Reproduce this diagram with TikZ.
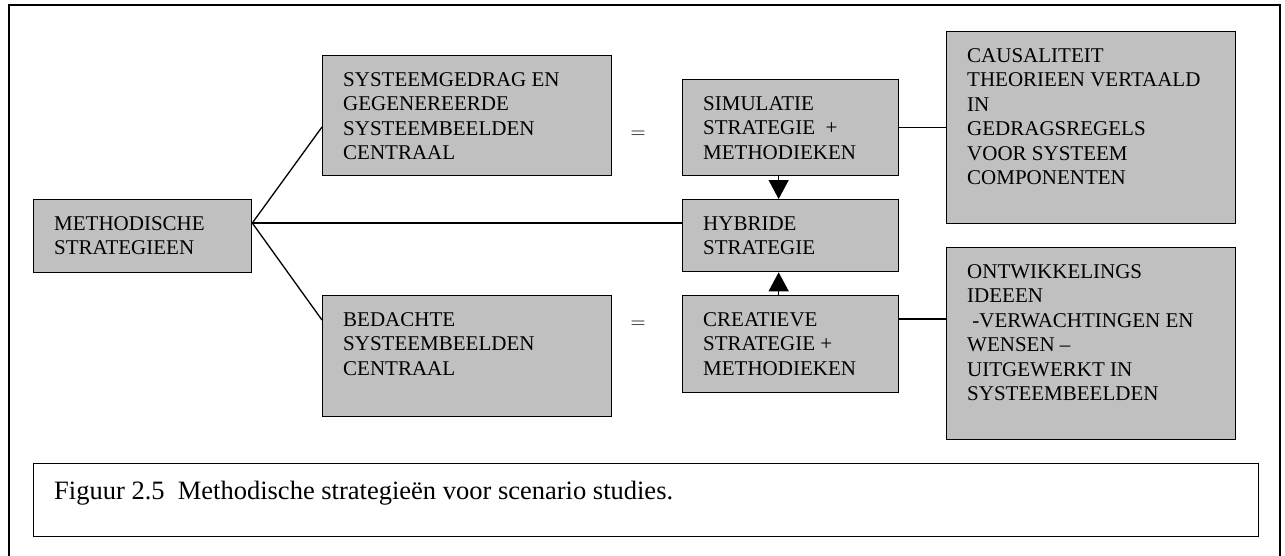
\documentclass[tikz,border=0pt]{standalone}
\usepackage{fontspec}
\setmainfont{Liberation Serif}
\usetikzlibrary{arrows.meta,calc}
\definecolor{boxgray}{RGB}{192,192,192}
\begin{document}
\begin{tikzpicture}[x=1pt,y=-1pt,
  txtfont/.style={font=\fontsize{21}{24.5}\selectfont},
  box/.style={draw=black,line width=1.3pt,fill=boxgray,anchor=north west,inner sep=0pt},
  lbl/.style={txtfont,anchor=north west,inner sep=0pt,align=left},
  link/.style={draw=black,line width=1.3pt},
  tiparrow/.style={link,-{Triangle[width=20pt,length=19pt]}}]
% page and outer frame (open at the bottom)
\useasboundingbox (0,0) rectangle (1285,555);
\fill[white] (0,0) rectangle (1285,555);
\begin{scope}
\clip (0,0) rectangle (1285,555);
\draw[line width=2.3pt] (9,620) -- (9,5) -- (1280,5) -- (1280,620);
\end{scope}

% boxes
\node[box,minimum width=218pt,minimum height=73pt]  (meth) at (33,199)  {};
\node[box,minimum width=289pt,minimum height=120pt] (sys)  at (322,55)  {};
\node[box,minimum width=289pt,minimum height=121pt] (bed)  at (322,295) {};
\node[box,minimum width=216pt,minimum height=96pt]  (sim)  at (682,79)  {};
\node[box,minimum width=216pt,minimum height=72pt]  (hyb)  at (682,199) {};
\node[box,minimum width=216pt,minimum height=97pt]  (cre)  at (682,295) {};
\node[box,minimum width=289pt,minimum height=192pt] (caus) at (946,31)  {};
\node[box,minimum width=289pt,minimum height=192pt] (ont)  at (946,247) {};
\node[box,fill=white,minimum width=1225pt,minimum height=73pt] (cap) at (33,463) {};

% box texts
\node[lbl] (methT) at ($(meth.north west)+(21,13.85)$) {\strut METHODISCHE\\STRATEGIEEN};
\node[lbl] (sysT)  at ($(sys.north west)+(21,13.85)$)  {\strut SYSTEEMGEDRAG EN\\GEGENEREERDE\\SYSTEEMBEELDEN\\CENTRAAL};
\node[lbl] (bedT)  at ($(bed.north west)+(21,13.85)$)  {\strut BEDACHTE\\SYSTEEMBEELDEN\\CENTRAAL};
\node[lbl] (simT)  at ($(sim.north west)+(21,13.85)$)  {\strut SIMULATIE\\STRATEGIE\ \ +\\METHODIEKEN};
\node[lbl] (hybT)  at ($(hyb.north west)+(21,13.85)$)  {\strut HYBRIDE\\STRATEGIE};
\node[lbl] (creT)  at ($(cre.north west)+(21,13.85)$)  {\strut CREATIEVE\\STRATEGIE +\\METHODIEKEN};
\node[lbl] (causT) at ($(caus.north west)+(21,13.85)$) {\strut CAUSALITEIT\\THEORIEEN VERTAALD\\IN\\GEDRAGSREGELS\\VOOR SYSTEEM\\COMPONENTEN};
\node[lbl] (ontT)  at ($(ont.north west)+(21,13.85)$)  {\strut ONTWIKKELINGS\\IDEEEN\\\ -VERWACHTINGEN EN\\WENSEN --\\UITGEWERKT IN\\SYSTEEMBEELDEN};
\node[lbl,font=\fontsize{26.5}{31}\selectfont] (capT) at ($(cap.north west)+(21,14.3)$) {\strut Figuur 2.5\ \ Methodische strategieën voor scenario studies.};

% equals signs
\node[txtfont,inner sep=0pt] (eq1) at (638,135) {$=$};
\node[txtfont,inner sep=0pt] (eq2) at (638,325) {$=$};

% connectors
\coordinate (mo) at ($(meth.north east)+(0,24)$);
\draw[link] (mo) -- ($(sys.north west)+(0,72)$);
\draw[link] (mo) -- ($(hyb.north west)+(0,24)$);
\draw[link] (mo) -- ($(bed.north west)+(0,25)$);
\draw[link] (sim.east) -- (sim.east -| caus.west);
\coordinate (co) at ($(cre.north east)+(0,24)$);
\draw[link] (co) -- (co -| ont.west);

% arrows into the hybrid strategy
\draw[tiparrow] ([xshift=-12pt]sim.south) -- ([xshift=-12pt]hyb.north);
\draw[tiparrow] ([xshift=-12pt]cre.north) -- ([xshift=-12pt]hyb.south);
\end{tikzpicture}
\end{document}
